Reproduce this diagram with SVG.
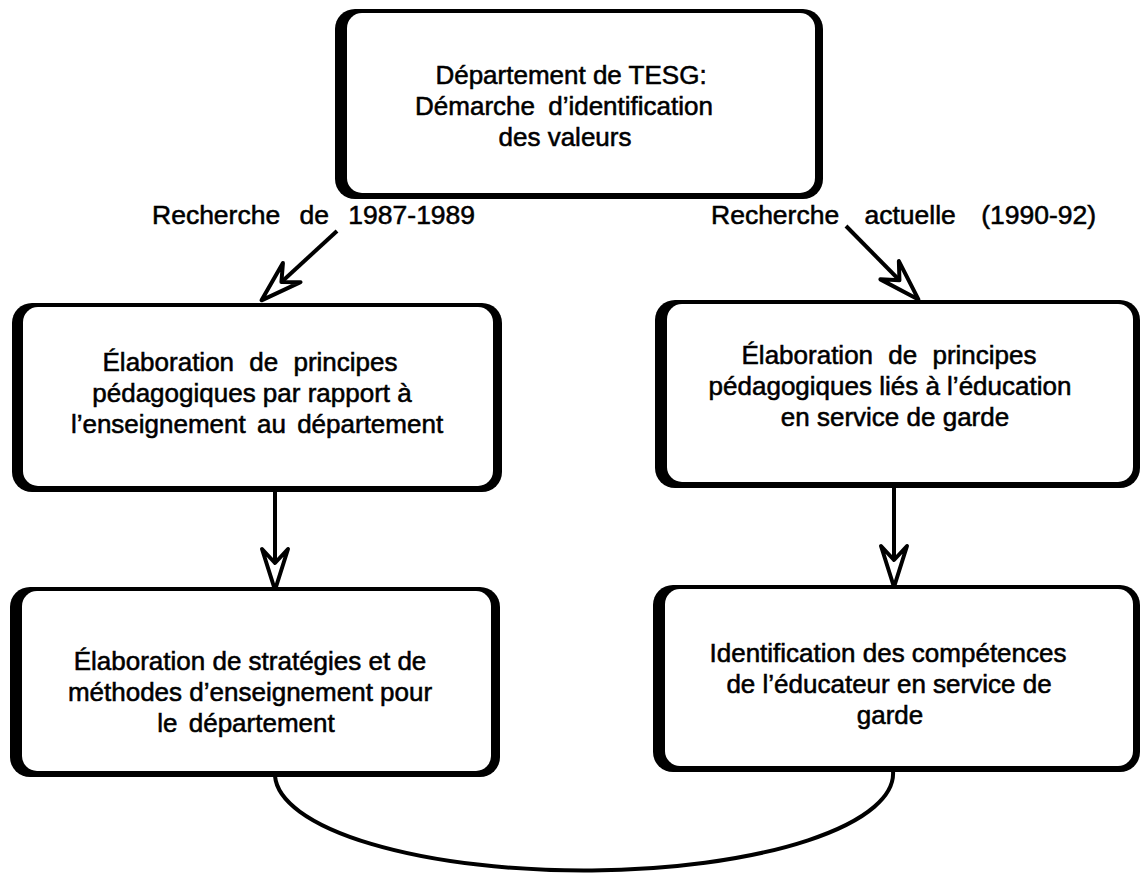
<svg xmlns="http://www.w3.org/2000/svg" width="1141" height="875" viewBox="0 0 1141 875">
  <style>
    .frame { fill: #000; }
    .face { fill: #fff; }
    .txt { font-family: "Liberation Sans", Arial, Helvetica, sans-serif; font-size: 26px; fill: #000; stroke: #000; stroke-width: 0.55px; text-anchor: middle; }
    .lbl { font-family: "Liberation Sans", Arial, Helvetica, sans-serif; font-size: 26.5px; fill: #000; stroke: #000; stroke-width: 0.55px; word-spacing: 12px; }
    .wire { fill: none; stroke: #000; stroke-width: 4; stroke-linecap: butt; }
  </style>
  <defs>
    <!-- open, notched arrowhead; tip sits on the end of the line -->
    <marker id="openHead" markerUnits="userSpaceOnUse" viewBox="-46 -18 50 36" refX="-2" refY="0" markerWidth="50" markerHeight="36" orient="auto" overflow="visible">
      <path d="M0,0 L-41,-13 L-27,0 L-41,13 Z" fill="#fff" stroke="#000" stroke-width="4" stroke-linejoin="round"/>
    </marker>
  </defs>

  <rect width="1141" height="875" fill="#fff"/>

  <!-- connectors -->
  <g id="connectors">
    <line class="wire" x1="337" y1="231" x2="263" y2="299" marker-end="url(#openHead)"/>
    <line class="wire" x1="846" y1="226" x2="917" y2="298" marker-end="url(#openHead)"/>
    <line class="wire" x1="275" y1="492" x2="275" y2="588" marker-end="url(#openHead)"/>
    <line class="wire" x1="894" y1="488" x2="894" y2="585" marker-end="url(#openHead)"/>
    <path class="wire" d="M275,776 A309,97 0 0 0 893,771"/>
  </g>

  <!-- labels on the two research branches -->
  <g id="labels">
    <text class="lbl" x="152" y="224">Recherche de 1987-1989</text>
    <text class="lbl" x="711" y="224" style="word-spacing:18px">Recherche actuelle (1990-92)</text>
  </g>

  <!-- department -->
  <g id="node-top">
    <rect class="frame" x="335" y="9" width="488" height="190" rx="20"/>
    <rect class="face" x="347" y="13" width="468" height="180" rx="15"/>
    <text class="txt" x="571" y="84">Département de TESG:</text>
    <text class="txt" x="564" y="115" style="word-spacing:6px">Démarche d’identification</text>
    <text class="txt" x="565" y="146">des valeurs</text>
  </g>

  <!-- left column -->
  <g id="node-left-1">
    <rect class="frame" x="12" y="303" width="490" height="189" rx="20"/>
    <rect class="face" x="23" y="307" width="470" height="179" rx="15"/>
    <text class="txt" x="250" y="371" style="word-spacing:8px">Élaboration de principes</text>
    <text class="txt" x="252" y="402">pédagogiques par rapport à</text>
    <text class="txt" x="257" y="433" style="word-spacing:4px">l’enseignement au département</text>
  </g>

  <g id="node-left-2">
    <rect class="frame" x="10" y="587" width="490" height="190" rx="20"/>
    <rect class="face" x="22" y="591" width="469" height="180" rx="15"/>
    <text class="txt" x="250" y="670">Élaboration de stratégies et de</text>
    <text class="txt" x="250" y="701">méthodes d’enseignement pour</text>
    <text class="txt" x="246" y="732" style="word-spacing:4px">le département</text>
  </g>

  <!-- right column -->
  <g id="node-right-1">
    <rect class="frame" x="655" y="300" width="485" height="188" rx="20"/>
    <rect class="face" x="667" y="304" width="466" height="178" rx="15"/>
    <text class="txt" x="889" y="364" style="word-spacing:8px">Élaboration de principes</text>
    <text class="txt" x="890" y="395">pédagogiques liés à l’éducation</text>
    <text class="txt" x="895" y="426">en service de garde</text>
  </g>

  <g id="node-right-2">
    <rect class="frame" x="653" y="585" width="487" height="187" rx="20"/>
    <rect class="face" x="665" y="589" width="468" height="177" rx="15"/>
    <text class="txt" x="888" y="662">Identification des compétences</text>
    <text class="txt" x="889" y="693">de l’éducateur en service de</text>
    <text class="txt" x="890" y="724">garde</text>
  </g>
</svg>
